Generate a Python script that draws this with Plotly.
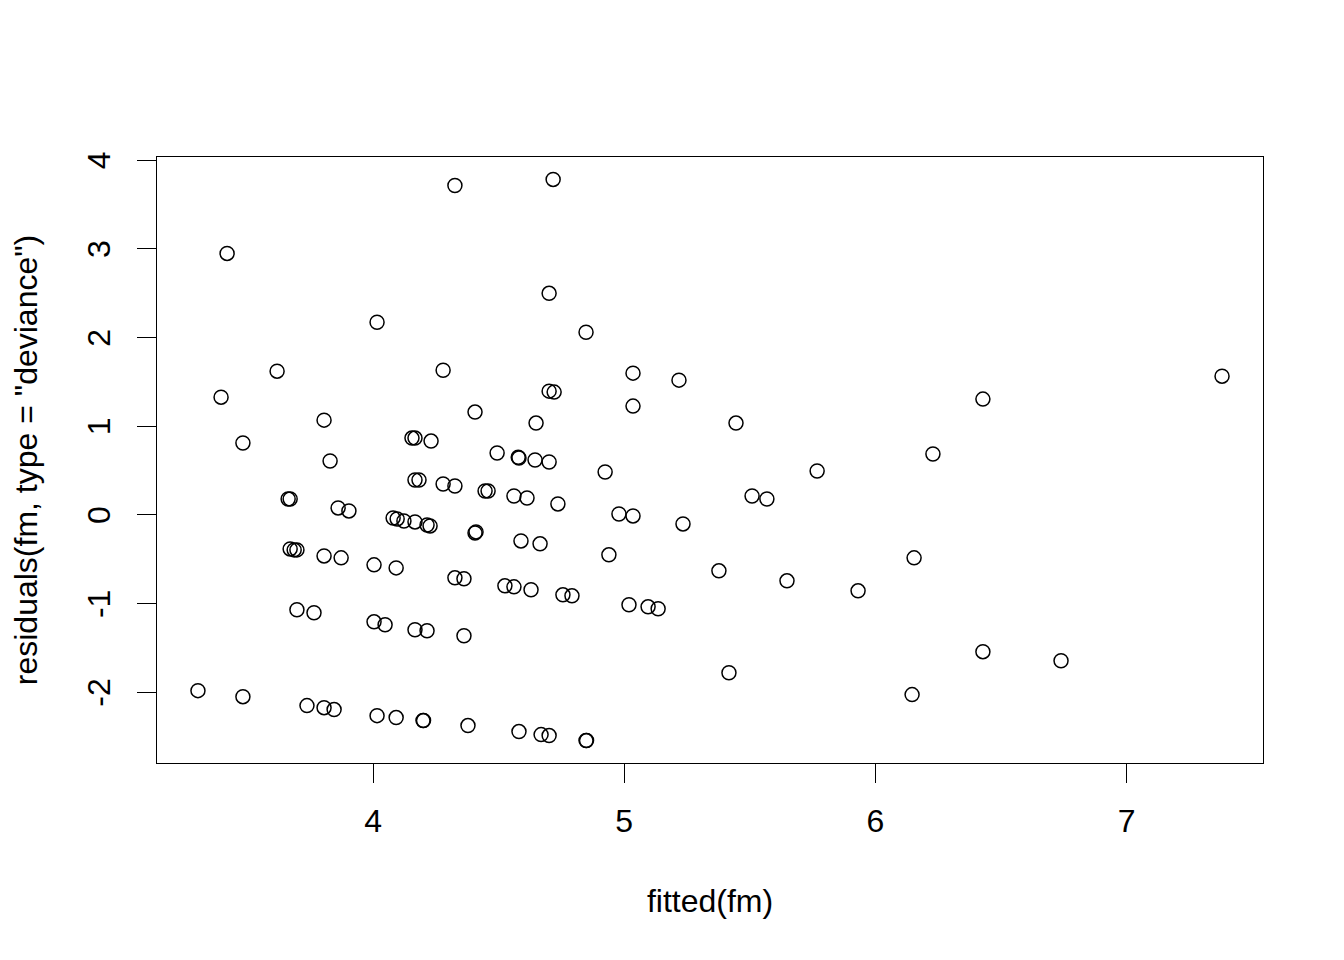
import plotly.graph_objects as go

# fitted values and deviance residuals
fitted_vals = [
    4.326, 4.717, 3.419, 4.701, 4.016, 4.848, 3.618, 4.279, 5.035, 5.218,
    7.380, 3.395, 6.428, 4.701, 4.721, 5.035, 4.406, 3.805, 4.649, 5.445,
    4.155, 4.167, 4.231, 3.482, 6.229, 4.494, 4.578, 4.581, 4.645, 4.701,
    3.829, 4.924, 5.768, 4.167, 4.183, 4.279, 4.326, 4.446, 4.458, 3.662,
    3.670, 4.561, 4.613, 5.509, 5.568, 4.736, 3.861, 3.904, 4.979, 5.035,
    4.080, 4.096, 4.123, 4.167, 4.215, 4.227, 5.234, 4.406, 4.410, 4.589,
    4.665, 3.670, 3.686, 3.697, 3.805, 3.873, 4.939, 6.154, 4.004, 4.092,
    5.377, 4.326, 4.362, 5.648, 4.525, 4.561, 4.629, 5.931, 4.756, 4.792,
    5.019, 5.095, 5.135, 3.697, 3.765, 4.004, 4.048, 4.167, 4.215, 4.362,
    5.417, 6.428, 6.739, 6.146, 3.303, 3.482, 3.737, 3.805, 3.845, 4.016,
    4.092, 4.199, 4.201, 4.378, 4.581, 4.669, 4.701, 4.848, 4.850,
]
resid_vals = [
    3.715, 3.783, 2.949, 2.499, 2.173, 2.060, 1.621, 1.632, 1.599, 1.520,
    1.565, 1.328, 1.306, 1.396, 1.385, 1.227, 1.160, 1.069, 1.036, 1.036,
    0.867, 0.867, 0.833, 0.811, 0.687, 0.698, 0.650, 0.642, 0.619, 0.597,
    0.608, 0.484, 0.495, 0.394, 0.394, 0.349, 0.326, 0.270, 0.270, 0.180,
    0.180, 0.214, 0.191, 0.214, 0.180, 0.124, 0.079, 0.045, 0.011, -0.011,
    -0.034, -0.045, -0.068, -0.079, -0.113, -0.124, -0.101, -0.203, -0.191, -0.293,
    -0.326, -0.383, -0.394, -0.394, -0.462, -0.484, -0.450, -0.484, -0.563, -0.597,
    -0.630, -0.709, -0.720, -0.743, -0.799, -0.811, -0.844, -0.856, -0.901, -0.912,
    -1.013, -1.036, -1.058, -1.069, -1.103, -1.205, -1.238, -1.295, -1.306, -1.362,
    -1.779, -1.542, -1.644, -2.026, -1.981, -2.049, -2.150, -2.173, -2.195, -2.263,
    -2.285, -2.319, -2.319, -2.375, -2.443, -2.477, -2.488, -2.544, -2.544,
]
x_ticks = [4, 5, 6, 7]
y_ticks = [-2, -1, 0, 1, 2, 3, 4]
y_tick_text = ["-2", "-1", "0", "1", "2", "3", "4"]  # R uses a plain hyphen

def padded(vals, frac=0.04):
    # same 4% extension R applies to the data range
    lo, hi = min(vals), max(vals)
    d = (hi - lo) * frac
    return [lo - d, hi + d]

FONT = "Liberation Sans, Arial, Helvetica, sans-serif"

fig = go.Figure(go.Scatter(
    x=fitted_vals, y=resid_vals, mode="markers",
    marker=dict(symbol="circle-open", size=14, color="black",
                line=dict(color="black", width=1.5)),
    showlegend=False, hoverinfo="x+y",
))

axis_common = dict(showgrid=False, zeroline=False, showline=True, mirror=True,
                   linecolor="black", linewidth=1.3, ticks="outside", ticklen=19,
                   tickwidth=1.3, tickcolor="black", automargin=False,
                   tickfont=dict(family=FONT, size=32, color="black"))

# page body has an 8px margin, so margins are shifted to put the box at 157..1263 / 157..763
fig.update_layout(
    width=1344, height=960, autosize=False,
    paper_bgcolor="white", plot_bgcolor="white",
    margin=dict(l=149, r=89, t=149, b=205),
    font=dict(family=FONT, size=32, color="black"),
    xaxis=dict(range=padded(fitted_vals), tickvals=x_ticks, ticklabelstandoff=10,
               title=dict(text="fitted(fm)", standoff=52,
                          font=dict(family=FONT, size=32, color="black")),
               **axis_common),
    yaxis=dict(range=padded(resid_vals), tickvals=y_ticks, ticktext=y_tick_text,
               tickangle=-90, ticklabelstandoff=14, ticklabelshift=5,
               title=dict(text='residuals(fm, type = "deviance")', standoff=43,
                          font=dict(family=FONT, size=32, color="black")),
               **axis_common),
)

fig.write_html("out.html")
